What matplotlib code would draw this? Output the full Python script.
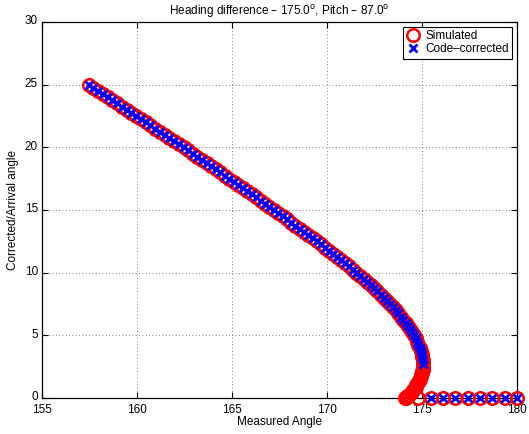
import matplotlib
matplotlib.use("Agg")
import matplotlib.pyplot as plt
from matplotlib.transforms import ScaledTranslation

plt.rcParams['font.family'] = ['Liberation Sans', 'DejaVu Sans']

# Arrival angle (deg) and corresponding measured angle along the upper branch
arrival_upper = [
    25.00, 24.75, 24.50, 24.25, 24.00, 23.75, 23.50, 23.25, 23.00, 22.75,
    22.50, 22.25, 22.00, 21.75, 21.50, 21.25, 21.00, 20.75, 20.50, 20.25,
    20.00, 19.75, 19.50, 19.25, 19.00, 18.75, 18.50, 18.25, 18.00, 17.75,
    17.50, 17.25, 17.00, 16.75, 16.50, 16.25, 16.00, 15.75, 15.50, 15.25,
    15.00, 14.75, 14.50, 14.25, 14.00, 13.75, 13.50, 13.25, 13.00, 12.75,
    12.50, 12.25, 12.00, 11.75, 11.50, 11.25, 11.00, 10.75, 10.50, 10.25,
    10.00, 9.75, 9.50, 9.25, 9.00, 8.75, 8.50, 8.25, 8.00, 7.75,
    7.50, 7.25, 7.00, 6.75, 6.50, 6.25, 6.00, 5.75, 5.50, 5.25,
    5.00, 4.75, 4.50, 4.25, 4.00, 3.75, 3.50, 3.25, 3.00, 2.75,
]
measured_upper = [
    157.45, 157.70, 157.95, 158.20, 158.45, 158.70, 158.95, 159.20, 159.45, 159.70,
    159.95, 160.20, 160.45, 160.70, 160.95, 161.20, 161.45, 161.70, 161.95, 162.20,
    162.45, 162.69, 162.93, 163.18, 163.42, 163.66, 163.90, 164.14, 164.38, 164.62,
    164.86, 165.09, 165.33, 165.56, 165.80, 166.03, 166.27, 166.50, 166.74, 166.97,
    167.20, 167.43, 167.66, 167.89, 168.12, 168.34, 168.57, 168.79, 169.02, 169.24,
    169.46, 169.68, 169.90, 170.11, 170.33, 170.54, 170.75, 170.95, 171.15, 171.35,
    171.55, 171.74, 171.93, 172.12, 172.30, 172.48, 172.65, 172.83, 173.00, 173.16,
    173.31, 173.47, 173.62, 173.76, 173.89, 174.02, 174.15, 174.26, 174.37, 174.48,
    174.58, 174.66, 174.74, 174.81, 174.88, 174.93, 174.98, 175.02, 175.05, 175.07,
]

# Lower (folded-back) branch below the turning point
arrival_lower = [2.625, 2.50, 2.375, 2.25, 2.125, 2.00, 1.875, 1.75, 1.625, 1.50,
                 1.375, 1.25, 1.125, 1.00, 0.875, 0.75, 0.625, 0.50, 0.375, 0.25,
                 0.125, 0.00]
measured_lower = [175.07, 175.06, 175.05, 175.03, 175.01, 174.99, 174.97, 174.94,
                  174.91, 174.88, 174.84, 174.80, 174.76, 174.71, 174.66, 174.60,
                  174.54, 174.47, 174.40, 174.32, 174.22, 174.10]

# Zero arrival angle samples
measured_zero = [174.15, 174.80, 175.45, 176.10, 176.75, 177.40, 178.05, 178.70,
                 179.35, 180.00]
arrival_zero = [0.0] * len(measured_zero)

# Code-corrected values at zero arrival angle
measured_corr_zero = [175.45, 176.10, 176.75, 177.40, 178.05, 178.70, 179.35, 180.00]
corrected_zero = [0.0] * len(measured_corr_zero)

sim_x = measured_upper + measured_lower + measured_zero
sim_y = arrival_upper + arrival_lower + arrival_zero
corr_x = measured_upper + measured_corr_zero
corr_y = arrival_upper + corrected_zero

fig = plt.figure(figsize=(5.29, 4.34), dpi=100)
ax = fig.add_axes([42 / 529, 36 / 434, 475 / 529, 376 / 434])

ax.plot(sim_x, sim_y, 'o', mfc='none', mec='#ff0000', ms=9, mew=1.8,
        label='Simulated', clip_on=False, zorder=3)
ax.plot(corr_x, corr_y, 'x', color='#0000ff', ms=6.2, mew=2.0,
        label='Code\u2013corrected', clip_on=False, zorder=4)

ax.set_xlim(155, 180)
ax.set_ylim(0, 30)
ax.set_xticks([155, 160, 165, 170, 175, 180])
ax.set_yticks([0, 5, 10, 15, 20, 25, 30])
ax.grid(True, linestyle=(0, (1, 3)), color='#555555', linewidth=0.6)
ax.set_axisbelow(True)
ax.tick_params(direction='in', length=4, width=0.8, labelsize=8.5,
               top=True, right=True)
ax.tick_params(axis='x', pad=4)
ax.tick_params(axis='y', pad=3)
for s in ax.spines.values():
    s.set_linewidth(0.9)

# lift the y tick labels a touch so the lowest one clears the x labels
for lbl in ax.get_yticklabels():
    lbl.set_transform(lbl.get_transform() + ScaledTranslation(0, 2 / 100, fig.dpi_scale_trans))

ax.set_title('Heading difference \u2013 175.0$^\\mathrm{o}$, Pitch \u2013 87.0$^\\mathrm{o}$',
             fontsize=8.5, pad=5)
ax.set_xlabel('Measured Angle', fontsize=8.5, labelpad=0)
ax.set_ylabel('Corrected/Arrival angle', fontsize=8.5, labelpad=4)

leg = ax.legend(loc='upper right', fontsize=8.5, frameon=True, fancybox=False,
                borderpad=0.3, handletextpad=0.4, labelspacing=0.1,
                handlelength=1.2, borderaxespad=0.4)
leg.get_frame().set_edgecolor('black')
leg.get_frame().set_linewidth(0.8)
leg.get_frame().set_alpha(1)

fig.savefig('out.png', dpi=100)
